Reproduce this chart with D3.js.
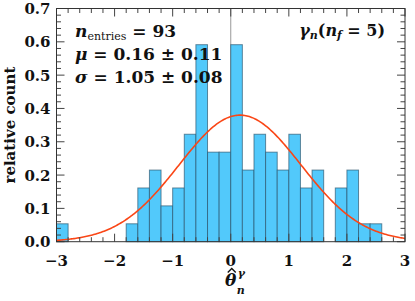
<!DOCTYPE html>
<html lang="en">
<head>
<meta charset="UTF-8">
<title>relative count histogram</title>
<style>
  body { margin: 0; padding: 0; background: #fff; }
  svg text { font-family: "DejaVu Serif", serif; font-weight: bold; fill: #111; }
</style>
</head>
<body>
<div id="chart"></div>
<script src="https://d3js.org/d3.v7.min.js"></script>
<script>
// histogram: 30 bins of width 0.2 from -3 to 3
const binEdges = d3.range(30).map(i => -3 + i * 0.2);
const binCounts = [1, 0, 0, 0, 0, 0, 1, 3, 4, 2, 3, 6, 11, 5, 5,
                   11, 4, 6, 5, 4, 6, 3, 4, 0, 3, 4, 1, 1, 0, 0];
const nEntries = 93;
const binWidth = 0.2;
const fitMu = 0.16;
const fitSigma = 1.05;
const xTicks = [-3, -2, -1, 0, 1, 2, 3];
const yTicks = [0, 0.1, 0.2, 0.3, 0.4, 0.5, 0.6, 0.7];

const width = 415, height = 301;
const m = { left: 56.5, right: 10, top: 8.5, bottom: 59.3 };

const svg = d3.select('#chart').append('svg')
    .attr('width', width)
    .attr('height', height);

const x = d3.scaleLinear().domain([-3, 3]).range([m.left, width - m.right]);
const y = d3.scaleLinear().domain([0, 0.7]).range([height - m.bottom, m.top]);

const bars = binEdges.map((e, i) => ({ x0: e, x1: e + binWidth, v: binCounts[i] / (nEntries * binWidth) }));

// zero line
svg.append('line')
    .attr('x1', x(0)).attr('x2', x(0))
    .attr('y1', y(0.7)).attr('y2', y(0))
    .attr('stroke', '#999').attr('stroke-width', 1);

svg.append('g')
    .selectAll('rect')
    .data(bars.filter(d => d.v > 0))
    .join('rect')
    .attr('x', d => x(d.x0))
    .attr('y', d => y(d.v))
    .attr('width', d => x(d.x1) - x(d.x0))
    .attr('height', d => y(0) - y(d.v))
    .attr('fill', '#52c9fb')
    .attr('stroke', 'rgba(40,80,105,0.65)')
    .attr('stroke-width', 1);

// gaussian fit
const gauss = t => Math.exp(-0.5 * ((t - fitMu) / fitSigma) ** 2) / (fitSigma * Math.sqrt(2 * Math.PI));
const curveX = d3.range(-3, 3.0001, 0.02);
svg.append('path')
    .datum(curveX)
    .attr('fill', 'none')
    .attr('stroke', '#fa4616')
    .attr('stroke-width', 1.6)
    .attr('d', d3.line().x(d => x(d)).y(d => y(gauss(d))));

// axes: inward ticks on all four sides
const tickCol = '#444';
const xMinor = d3.range(-3, 3.0001, 0.2);
const yMinor = d3.range(0, 0.7001, 0.02);
const isMajor = (v, s) => Math.abs(v / s - Math.round(v / s)) < 1e-6;

const tg = svg.append('g').attr('stroke', tickCol).attr('stroke-width', 1);
xMinor.forEach(v => {
    const len = isMajor(v, 1) ? 8 : 4.5;
    tg.append('line').attr('x1', x(v)).attr('x2', x(v)).attr('y1', y(0)).attr('y2', y(0) - len);
    tg.append('line').attr('x1', x(v)).attr('x2', x(v)).attr('y1', y(0.7)).attr('y2', y(0.7) + len);
});
yMinor.forEach(v => {
    const len = isMajor(v, 0.1) ? 8 : 4.5;
    tg.append('line').attr('x1', x(-3)).attr('x2', x(-3) + len).attr('y1', y(v)).attr('y2', y(v));
    tg.append('line').attr('x1', x(3)).attr('x2', x(3) - len).attr('y1', y(v)).attr('y2', y(v));
});

svg.append('rect')
    .attr('x', x(-3)).attr('y', y(0.7))
    .attr('width', x(3) - x(-3)).attr('height', y(0) - y(0.7))
    .attr('fill', 'none').attr('stroke', '#333').attr('stroke-width', 1);

// tick labels
svg.append('g').selectAll('text')
    .data(xTicks)
    .join('text')
    .attr('x', d => x(d))
    .attr('y', y(0) + 24)
    .attr('text-anchor', 'middle')
    .attr('font-size', 15)
    .text(d => d < 0 ? '\u2212' + Math.abs(d) : d);

svg.append('g').selectAll('text')
    .data(yTicks)
    .join('text')
    .attr('x', x(-3) - 6)
    .attr('y', d => y(d) + 5.5)
    .attr('text-anchor', 'end')
    .attr('font-size', 15)
    .text(d => d.toFixed(1));

// axis titles
svg.append('text')
    .attr('transform', `translate(15, ${y(0.35)}) rotate(-90)`)
    .attr('text-anchor', 'middle')
    .attr('font-size', 15)
    .text('relative count');

const lx = x(0);
svg.append('text').attr('x', lx).attr('y', 286).attr('text-anchor', 'middle')
    .attr('font-size', 17).attr('font-style', 'italic').text('\u03b8');
// hat over theta
svg.append('path')
    .attr('d', `M${lx - 3},${272.5}L${lx + 1},${268.5}L${lx + 5},${272.5}`)
    .attr('fill', 'none').attr('stroke', '#111').attr('stroke-width', 1.4);
svg.append('text').attr('x', lx + 7).attr('y', 277)
    .attr('font-size', 11).attr('font-style', 'italic').text('\u03b3');
svg.append('text').attr('x', lx + 6).attr('y', 294)
    .attr('font-size', 11).attr('font-style', 'italic').text('n');

// fit summary
const t1 = svg.append('text').attr('x', 75).attr('y', 37).attr('font-size', 17);
t1.append('tspan').attr('font-style', 'italic').text('n');
t1.append('tspan').attr('font-size', 11).attr('font-weight', 'normal').attr('dy', 3).text('entries');
t1.append('tspan').attr('dy', -3).text(' = 93');

const t2 = svg.append('text').attr('x', 75).attr('y', 60).attr('font-size', 17);
t2.append('tspan').attr('font-style', 'italic').text('\u03bc');
t2.append('tspan').text(` = ${fitMu.toFixed(2)} \u00b1 0.11`);

const t3 = svg.append('text').attr('x', 75).attr('y', 83).attr('font-size', 17);
t3.append('tspan').attr('font-style', 'italic').text('\u03c3');
t3.append('tspan').text(` = ${fitSigma.toFixed(2)} \u00b1 0.08`);

const t4 = svg.append('text').attr('x', 385).attr('y', 36).attr('text-anchor', 'end').attr('font-size', 16);
t4.append('tspan').attr('font-style', 'italic').text('\u03b3');
t4.append('tspan').attr('font-style', 'italic').attr('font-size', 11).attr('dy', 3).text('n');
t4.append('tspan').attr('dy', -3).text('(');
t4.append('tspan').attr('font-style', 'italic').text('n');
t4.append('tspan').attr('font-style', 'italic').attr('font-size', 11).attr('dy', 3).text('f');
t4.append('tspan').attr('dy', -3).text(' = 5)');
</script>
</body>
</html>
